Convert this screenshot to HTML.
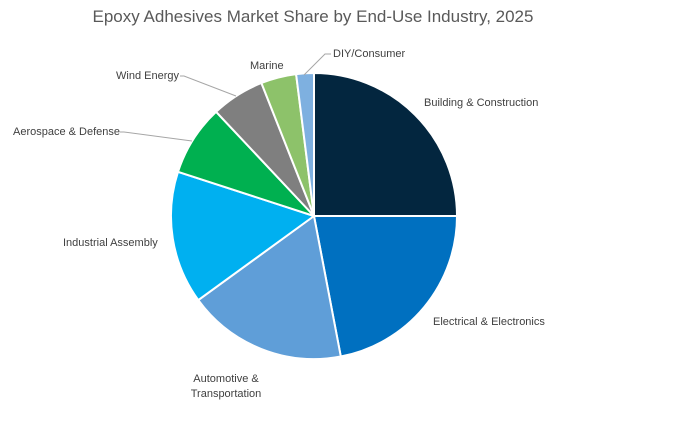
<!DOCTYPE html>
<html><head><style>
body{margin:0;background:#fff;}
svg text{font-family:"Liberation Sans",sans-serif;fill:#404040;}
</style></head><body>
<svg width="699" height="431" viewBox="0 0 699 431">
<rect width="699" height="431" fill="#fff"/>
<text x="313" y="22" font-size="17" text-anchor="middle" style="fill:#595959">Epoxy Adhesives Market Share by End-Use Industry, 2025</text>
<g stroke="#fff" stroke-width="2">
<path d="M314,216 L314,73 A143,143 0 0 1 457,216 Z" fill="#03263F"/>
<path d="M314,216 L457,216 A143,143 0 0 1 340.8,356.5 Z" fill="#0070C0"/>
<path d="M314,216 L340.8,356.5 A143,143 0 0 1 198.3,300.1 Z" fill="#5F9ED8"/>
<path d="M314,216 L198.3,300.1 A143,143 0 0 1 178,171.8 Z" fill="#00B0F0"/>
<path d="M314,216 L178,171.8 A143,143 0 0 1 216.1,111.8 Z" fill="#00B050"/>
<path d="M314,216 L216.1,111.8 A143,143 0 0 1 261.4,83 Z" fill="#7F7F7F"/>
<path d="M314,216 L261.4,83 A143,143 0 0 1 296.1,74.1 Z" fill="#8DC26A"/>
<path d="M314,216 L296.1,74.1 A143,143 0 0 1 314,73 Z" fill="#7EB0E0"/>
</g>
<g stroke="#a6a6a6" stroke-width="1" fill="none">
<polyline points="180,76 184,76 236,96"/>
<polyline points="331,54 325,54 304,75"/>
<polyline points="120,132 124,132 192,141"/>
</g>
<g font-size="11">
<text x="424" y="106">Building &amp; Construction</text>
<text x="433" y="325">Electrical &amp; Electronics</text>
<text x="226" y="382" text-anchor="middle">Automotive &amp;</text>
<text x="226" y="397" text-anchor="middle">Transportation</text>
<text x="63" y="246">Industrial Assembly</text>
<text x="13" y="135">Aerospace &amp; Defense</text>
<text x="116" y="79">Wind Energy</text>
<text x="250" y="69">Marine</text>
<text x="333" y="57">DIY/Consumer</text>
</g>
</svg>
</body></html>
